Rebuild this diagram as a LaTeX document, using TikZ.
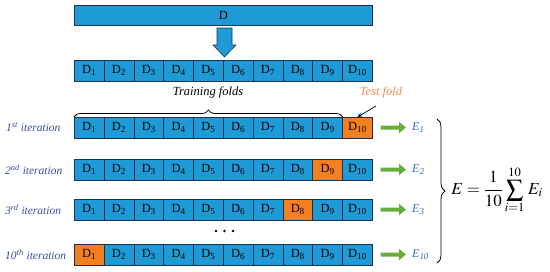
\documentclass[tikz,border=0pt]{standalone}
\usepackage{mathptmx}
\usepackage[no-math]{fontspec}
\setmainfont{Liberation Serif}
\usetikzlibrary{arrows.meta,decorations.pathreplacing}
\definecolor{cellblue}{HTML}{1E9AD6}
\definecolor{cellborder}{HTML}{1F2F4F}
\definecolor{testorange}{HTML}{F47F20}
\definecolor{labind}{HTML}{3C4B9E}
\definecolor{eblue}{HTML}{2E6DB4}
\definecolor{tforange}{HTML}{F58B4C}
\definecolor{agreen}{HTML}{66AD3C}
\begin{document}
\begin{tikzpicture}[x=1bp,y=-1bp,
  cell/.style={draw=cellborder,fill=cellblue,minimum width=29.8bp,minimum height=20.5bp,
    inner sep=0pt,anchor=north west,line width=0.6bp,font=\fontsize{12.5}{13}\selectfont},
  itlab/.style={anchor=west,inner sep=0pt,text=labind,font=\fontsize{11.5}{13}\selectfont\itshape},
  elab/.style={anchor=west,inner sep=0pt,text=eblue,font=\fontsize{12}{13}\selectfont\itshape},
  garrow/.style={draw=agreen,line width=4bp,-{Triangle[length=7bp,width=11bp]}},
  bracestyle/.style={decorate,decoration={brace,amplitude=#1},line width=0.8bp},
]
\useasboundingbox (0,0) rectangle (550,271);
% top bar
\node[cell,minimum width=298bp,minimum height=20bp] (D) at (74,5) {D};
% big arrow
\draw[fill=cellblue,draw=cellborder,line width=0.6bp] (217,28) -- (232,28) -- (232,45) -- (236,45)
  -- (224.5,57) -- (213,45) -- (217,45) -- cycle;
% rows
\foreach \r/\y/\t in {a/60/0, b/117/10, c/159/9, d/199/8, e/244/1}{
  \foreach \i in {1,...,10}{
    \ifnum\i=\t \def\fc{testorange}\else\def\fc{cellblue}\fi
    \node[cell,fill=\fc] (\r\i) at ({74+(\i-1)*29.8},\y) {D\textsubscript{\i}};
  }
}
% training folds brace
\draw[bracestyle=7bp] (b1.north west) -- (b9.north east);
\node[font=\fontsize{12.5}{14}\selectfont\itshape] (tr) at (208,92) {Training folds};
% test fold
\node[font=\fontsize{12.5}{14}\selectfont\itshape,text=tforange] (tf) at (381,92) {Test fold};
\coordinate (tfs) at (376,106);
\draw[-{Stealth[length=5bp,width=4bp]},line width=0.7bp] (tfs) -- (b10.north);
% iteration labels
\node[itlab] (l1) at (6,127.5) {1\textsuperscript{st} iteration};
\node[itlab] (l2) at (5,169.5) {2\textsuperscript{nd} iteration};
\node[itlab] (l3) at (5,209.5) {3\textsuperscript{rd} iteration};
\node[itlab] (l4) at (5,254.5) {10\textsuperscript{th} iteration};
% dots
\foreach \xx in {216,224.5,233}{\fill (\xx,231) circle (1.4bp);}
% E labels
\node[elab] (E1) at (412,127.5) {E\textsubscript{\itshape 1}};
\node[elab] (E2) at (412,169.5) {E\textsubscript{\itshape 2}};
\node[elab] (E3) at (412,209.5) {E\textsubscript{\itshape 3}};
\node[elab] (E4) at (412,254.5) {E\textsubscript{\itshape 10}};
\draw[garrow,shorten <=8bp,shorten >=6bp] (b10) -- (E1);
\draw[garrow,shorten <=8bp,shorten >=6bp] (c10) -- (E2);
\draw[garrow,shorten <=8bp,shorten >=6bp] (d10) -- (E3);
\draw[garrow,shorten <=8bp,shorten >=6bp] (e10) -- (E4);
% right brace
\coordinate (rb1) at (437,119);
\coordinate (rb2) at (437,263);
\draw[bracestyle=8bp] (rb1) -- (rb2);
\node[font=\fontsize{17}{20}\selectfont] (F) at (497,190) {$\displaystyle E=\frac{1}{10}\sum_{i=1}^{10}\,E_i$};
\end{tikzpicture}
\end{document}
